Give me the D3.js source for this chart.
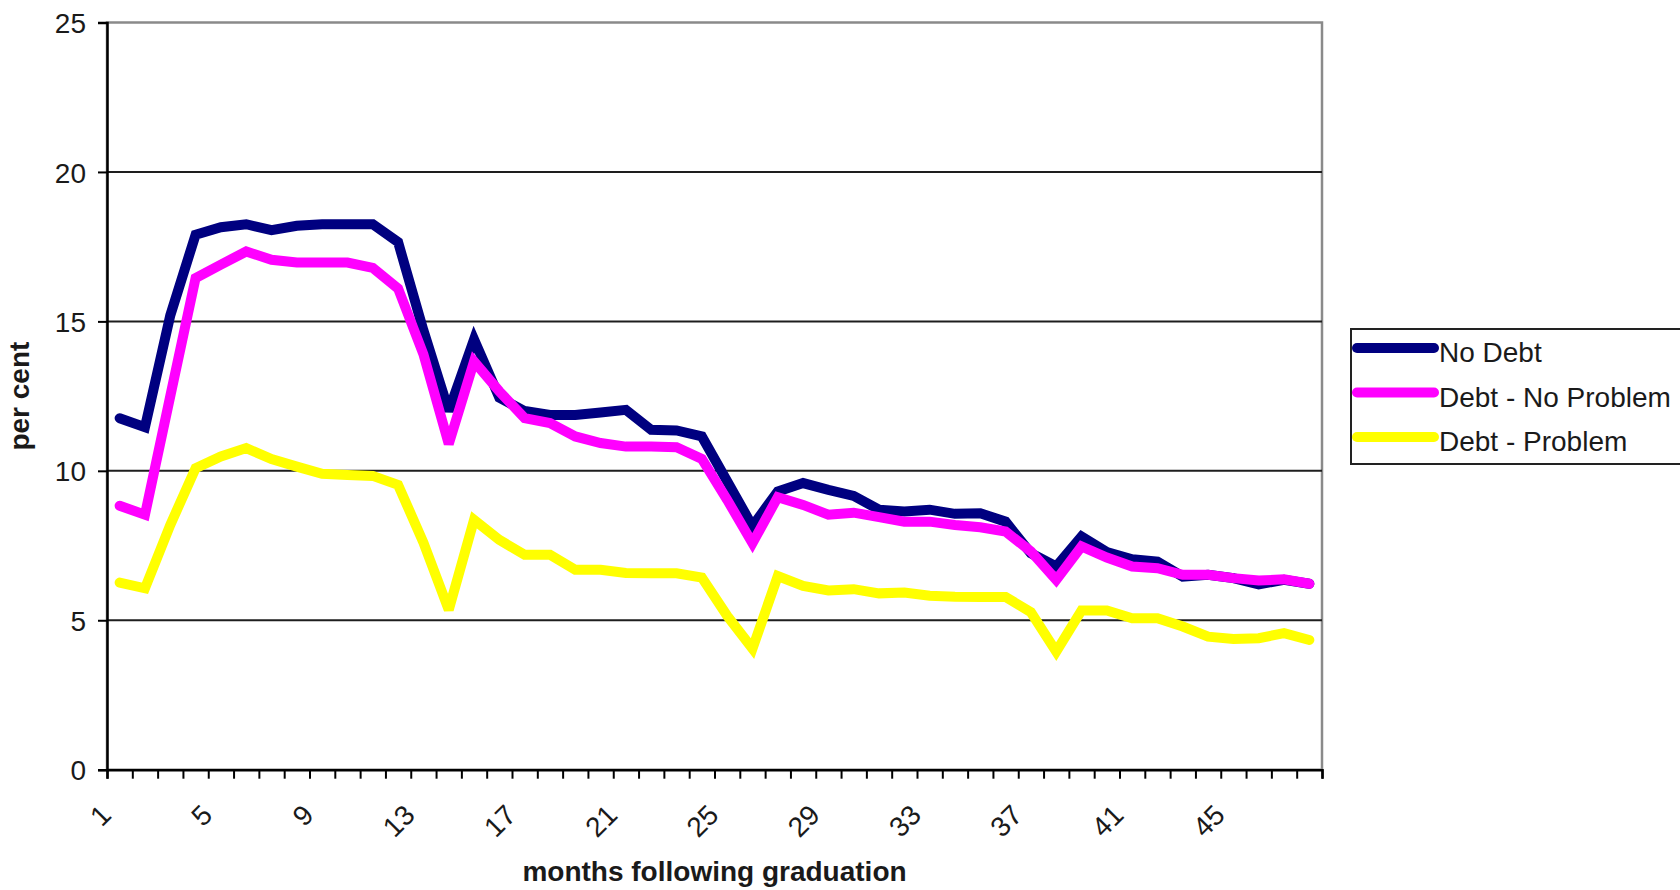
<!DOCTYPE html>
<html>
<head>
<meta charset="utf-8">
<script src="https://cdn.jsdelivr.net/npm/d3@7/dist/d3.min.js"></script>
<style>
  html, body { margin: 0; padding: 0; background: #fff; }
  svg { display: block; }
  text { font-family: "Liberation Sans", Arial, sans-serif; fill: #1a1a1a; }
</style>
</head>
<body>
<svg id="chart" width="1680" height="890"></svg>
<script>
// Months following graduation (category axis)
const months = [1,2,3,4,5,6,7,8,9,10,11,12,13,14,15,16,17,18,19,20,21,22,23,24,
                25,26,27,28,29,30,31,32,33,34,35,36,37,38,39,40,41,42,43,44,45,46,47,48];

// Per cent by month, one array per group
const noDebt = [11.76,11.46,15.2,17.9,18.15,18.25,18.05,18.2,18.25,18.25,18.25,17.65,
                14.7,12.0,14.4,12.45,12.0,11.87,11.87,11.95,12.04,11.37,11.35,11.15,
                9.65,8.15,9.31,9.59,9.36,9.16,8.7,8.64,8.7,8.56,8.58,8.3,
                7.24,6.8,7.8,7.28,7.04,6.96,6.46,6.52,6.41,6.2,6.35,6.22];
const debtNoProblem = [8.83,8.53,12.5,16.45,16.9,17.34,17.06,16.97,16.97,16.97,16.79,16.1,
                13.9,10.9,13.66,12.66,11.76,11.6,11.15,10.93,10.81,10.81,10.79,10.4,
                9.03,7.58,9.12,8.86,8.53,8.6,8.45,8.3,8.3,8.19,8.11,7.97,
                7.3,6.35,7.47,7.1,6.8,6.74,6.52,6.52,6.41,6.33,6.37,6.22];
const debtProblem = [6.26,6.07,8.19,10.09,10.48,10.76,10.39,10.14,9.9,9.86,9.83,9.53,
                7.6,5.35,8.36,7.69,7.19,7.19,6.69,6.69,6.58,6.57,6.57,6.43,
                5.15,4.05,6.48,6.15,6.0,6.04,5.9,5.93,5.82,5.79,5.78,5.78,
                5.27,3.95,5.33,5.33,5.07,5.07,4.79,4.45,4.37,4.4,4.57,4.34];

const seriesNames = ["No Debt", "Debt - No Problem", "Debt - Problem"];
const seriesColors = ["#000080", "#ff00ff", "#ffff00"];
const yTicks = [0, 5, 10, 15, 20, 25];
const xTickLabels = ["1","5","9","13","17","21","25","29","33","37","41","45"];
const xTitle = "months following graduation";
const yTitle = "per cent";

const series = [noDebt, debtNoProblem, debtProblem].map((vals, i) => ({
  name: seriesNames[i], color: seriesColors[i],
  values: months.map((m, j) => ({ month: m, value: vals[j] }))
}));

const plot = { left: 107, right: 1322, top: 22.5, bottom: 769.7 };
const svg = d3.select("#chart");

const x = d3.scaleBand().domain(months).range([plot.left, plot.right]).padding(0);
const xEdges = d3.scaleLinear().domain([0, months.length]).range([plot.left, plot.right]);
const y = d3.scaleLinear().domain([0, 25]).range([plot.bottom, plot.top]);

// Plot area frame (grey top and right edges)
svg.append("rect")
  .attr("x", plot.left).attr("y", plot.top)
  .attr("width", plot.right - plot.left).attr("height", plot.bottom - plot.top)
  .attr("fill", "#fff").attr("stroke", "#8a8a8a").attr("stroke-width", 2.5);

// Horizontal gridlines
svg.append("g").selectAll("line")
  .data(yTicks.filter(t => t > 0 && t < 25))
  .join("line")
  .attr("x1", plot.left).attr("x2", plot.right)
  .attr("y1", d => y(d)).attr("y2", d => y(d))
  .attr("stroke", "#1e1e1e").attr("stroke-width", 2);

// Y axis
const yAxis = svg.append("g")
  .attr("transform", `translate(${plot.left},0)`)
  .call(d3.axisLeft(y).tickValues(yTicks).tickSize(9).tickPadding(12).tickFormat(d3.format("d")));
yAxis.select(".domain").attr("stroke", "#000").attr("stroke-width", 2.5);
yAxis.selectAll(".tick line").attr("stroke", "#000").attr("stroke-width", 2);
yAxis.selectAll(".tick text")
  .attr("font-size", 28).attr("font-family", "Liberation Sans, Arial, sans-serif")
  .attr("fill", "#1a1a1a").attr("dy", "0.36em");

// X axis: tick marks on category boundaries
const xAxis = svg.append("g")
  .attr("transform", `translate(0,${plot.bottom})`)
  .call(d3.axisBottom(xEdges).tickValues(d3.range(months.length + 1)).tickSize(9).tickFormat(""));
xAxis.select(".domain").attr("stroke", "#000").attr("stroke-width", 2.5);
xAxis.selectAll(".tick line").attr("stroke", "#000").attr("stroke-width", 2);

// X tick labels, rotated, every fourth month
svg.append("g").selectAll("text")
  .data(xTickLabels)
  .join("text")
  .attr("text-anchor", "end")
  .attr("font-size", 28)
  .attr("transform", d => `translate(${x(+d) + x.bandwidth() / 2 - 7},${plot.bottom + 47}) rotate(-45)`)
  .text(d => d);

// Axis titles
svg.append("text")
  .attr("x", (plot.left + plot.right) / 2).attr("y", 881)
  .attr("text-anchor", "middle").attr("font-size", 28).attr("font-weight", "bold")
  .text(xTitle);
svg.append("text")
  .attr("transform", `translate(29,${(plot.top + plot.bottom) / 2}) rotate(-90)`)
  .attr("text-anchor", "middle").attr("font-size", 28).attr("font-weight", "bold")
  .text(yTitle);

// Series lines
const line = d3.line()
  .x(d => x(d.month) + x.bandwidth() / 2)
  .y(d => y(d.value));

svg.append("g").selectAll("path")
  .data(series)
  .join("path")
  .attr("d", d => line(d.values))
  .attr("fill", "none")
  .attr("stroke", d => d.color)
  .attr("stroke-width", 10)
  .attr("stroke-linejoin", "miter")
  .attr("stroke-miterlimit", 3)
  .attr("stroke-linecap", "round");

// Legend
const legend = svg.append("g");
legend.append("rect")
  .attr("x", 1351).attr("y", 329).attr("width", 360).attr("height", 135)
  .attr("fill", "#fff").attr("stroke", "#222").attr("stroke-width", 2);
const legendRows = legend.selectAll("g.row")
  .data(series)
  .join("g").attr("class", "row")
  .attr("transform", (d, i) => `translate(0,${348 + i * 44.5})`);
legendRows.append("line")
  .attr("x1", 1357).attr("x2", 1434).attr("y1", 0).attr("y2", 0)
  .attr("stroke", d => d.color).attr("stroke-width", 10).attr("stroke-linecap", "round");
legendRows.append("text")
  .attr("x", 1439).attr("y", 14)
  .attr("font-size", 28)
  .text(d => d.name);
</script>
</body>
</html>
